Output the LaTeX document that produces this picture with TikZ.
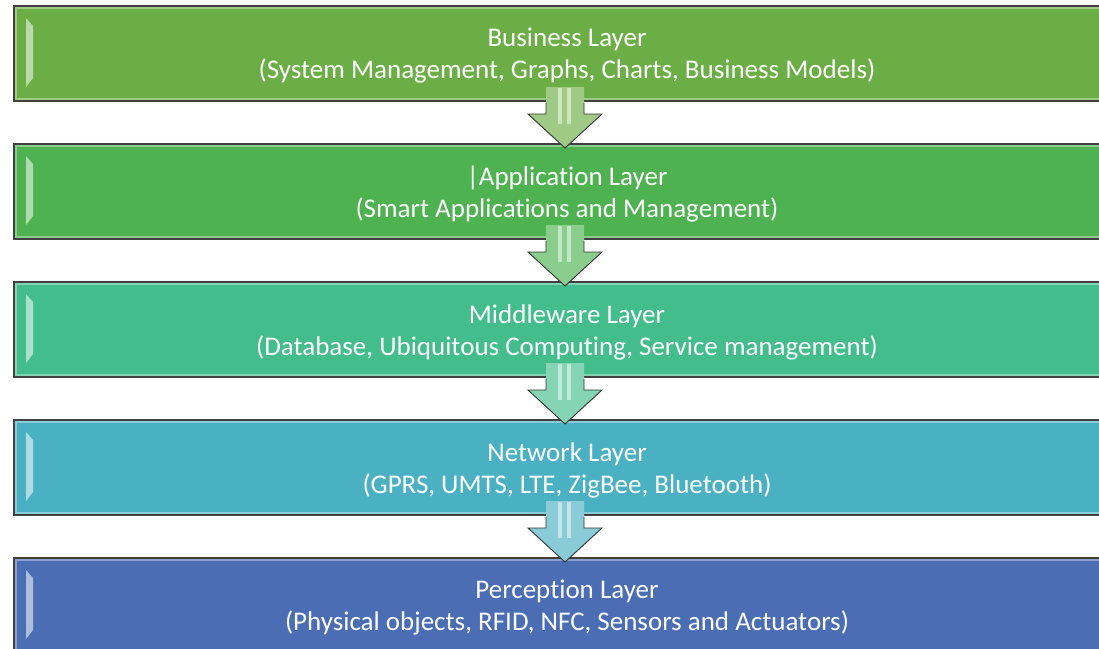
\documentclass[tikz,border=0pt]{standalone}
\usepackage{fontspec}
\setmainfont[Ligatures=NoCommon]{Carlito}
\usetikzlibrary{calc}
\definecolor{c1}{HTML}{6AAE45}
\definecolor{c2}{HTML}{4DB24F}
\definecolor{c3}{HTML}{43BD8B}
\definecolor{c4}{HTML}{4AB1C3}
\definecolor{c5}{HTML}{4A6DB3}
\begin{document}
\begin{tikzpicture}[x=1pt,y=-1pt,
  layer/.style={fill=#1, draw=black!75, line width=2pt, minimum width=1106pt, minimum height=95pt,
    inner sep=0pt, anchor=north west},
  lbl/.style={yshift=-2.5pt, inner sep=0pt, text=white, font=\fontsize{27}{32}\selectfont, align=center},
  rim/.style={draw=white, draw opacity=0.35, line width=1.5pt},
  bevel/.style={fill=white, fill opacity=0.55},
  stripe/.style={fill=white, fill opacity=0.5}]
\useasboundingbox (0,0) rectangle (1099,648);
\fill[white] (0,0) rectangle (1099,648);
\clip (0,0) rectangle (1099,648);
\node[layer=c1, label={[lbl]center:{Business Layer\\(System Management, Graphs, Charts, Business Models)}}] (b1) at (13,5) {};
\node[layer=c2, label={[lbl]center:{|Application Layer\\(Smart Applications and Management)}}] (b2) at (13,143) {};
\node[layer=c3, label={[lbl]center:{Middleware Layer\\(Database, Ubiquitous Computing, Service management)}}] (b3) at (13,281) {};
\node[layer=c4, label={[lbl]center:{Network Layer\\(GPRS, UMTS, LTE, ZigBee, Bluetooth)}}] (b4) at (13,419) {};
\node[layer=c5, label={[lbl]center:{Perception Layer\\(Physical objects, RFID, NFC, Sensors and Actuators)}}] (b5) at (13,557) {};
\foreach \b in {b1,b2,b3,b4,b5}{
  \draw[rim] ($(\b.north west)+(3,3)$) rectangle ($(\b.south east)+(-3,-3)$);
  \path[bevel] ($(\b.north west)+(13,13)$) -- ($(\b.north west)+(20,21)$) -- ($(\b.south west)+(20,-24)$) -- ($(\b.south west)+(13,-15)$) -- cycle;
}
\foreach \a/\b/\c in {b1/b2/c1, b2/b3/c2, b3/b4/c3, b4/b5/c4}{
  \coordinate (s) at ($(\a.south)+(-2,0)$);
  \coordinate (t) at ($(\b.north)+(-2,5)$);
  \fill[\c!65!white] ($(s)+(-19,-15)$) -- ($(s)+(-19,12)$) -- ($(s)+(-37,12)$) -- (t) -- ($(s)+(37,12)$) -- ($(s)+(19,12)$) -- ($(s)+(19,-15)$) -- cycle;
  \draw[black!80, line width=0.9pt] ($(s)+(-19,1)$) -- ($(s)+(-19,12)$) -- ($(s)+(-37,12)$) -- (t) -- ($(s)+(37,12)$) -- ($(s)+(19,12)$) -- ($(s)+(19,1)$);
  \fill[stripe] ($(s)+(-7,-14)$) rectangle ($(s)+(-3,22)$);
  \fill[stripe] ($(s)+(2,-14)$) rectangle ($(s)+(6,22)$);
}
\end{tikzpicture}
\end{document}
